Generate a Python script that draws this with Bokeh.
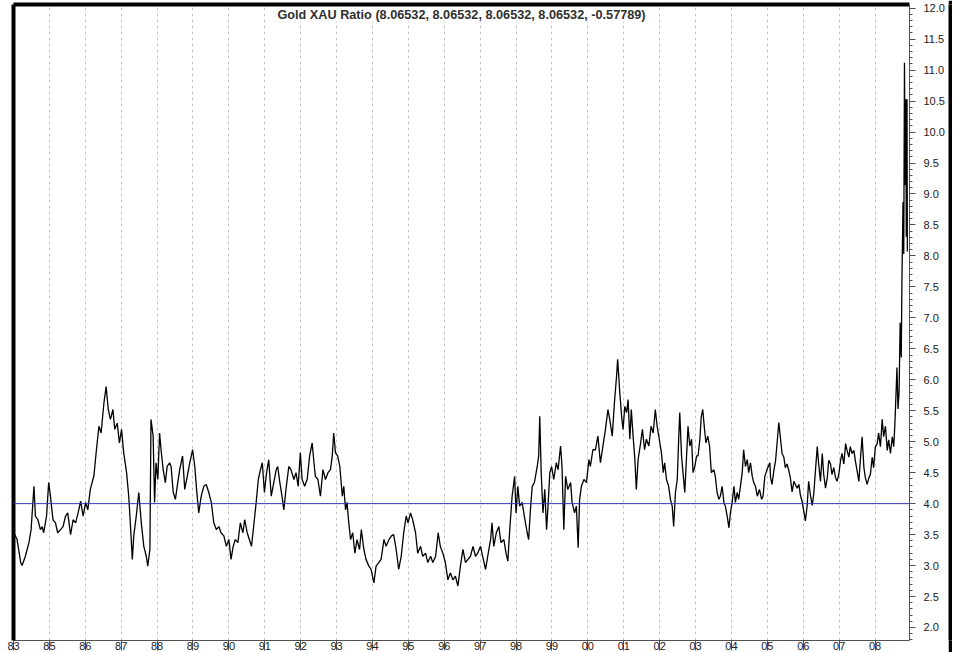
from bokeh.plotting import figure
from bokeh.models import (Range1d, LinearAxis, FixedTicker, SingleIntervalTicker,
                          Span, Label, Grid, NumeralTickFormatter)
from bokeh.layouts import row
from bokeh.embed import file_html
from bokeh.resources import INLINE

title_text = "Gold XAU Ratio (8.06532, 8.06532, 8.06532, 8.06532, -0.57789)"
ref_level = 4.0

tick_years = [1984, 1985, 1986, 1987, 1988, 1989, 1990, 1991, 1992, 1993, 1994, 1995, 1996,
              1997, 1998, 1999, 2000, 2001, 2002, 2003, 2004, 2005, 2006, 2007, 2008]
tick_labels = ["83", "85", "86", "87", "88", "89", "90", "91", "92", "93", "94", "95", "96",
               "97", "98", "99", "00", "01", "02", "03", "04", "05", "06", "07", "08"]

dates = [
    1984.01, 1984.10, 1984.20, 1984.24, 1984.33, 1984.43, 1984.49, 1984.57, 1984.61, 1984.68,
    1984.75, 1984.80, 1984.84, 1984.92, 1984.98, 1985.03, 1985.10, 1985.17, 1985.23, 1985.31,
    1985.38, 1985.45, 1985.51, 1985.59, 1985.66, 1985.73, 1985.80, 1985.87, 1985.94, 1986.01,
    1986.07, 1986.14, 1986.24, 1986.31, 1986.38, 1986.44, 1986.52, 1986.58, 1986.64, 1986.70,
    1986.77, 1986.82, 1986.89, 1986.95, 1987.01, 1987.07, 1987.15, 1987.21, 1987.26, 1987.31,
    1987.35, 1987.42, 1987.49, 1987.56, 1987.63, 1987.70, 1987.74, 1987.80, 1987.83, 1987.89,
    1987.93, 1987.97, 1988.02, 1988.07, 1988.11, 1988.17, 1988.23, 1988.28, 1988.35,
    1988.39, 1988.45, 1988.51, 1988.56, 1988.63, 1988.71, 1988.77, 1988.84, 1988.91, 1988.99,
    1989.05, 1989.10, 1989.16, 1989.23, 1989.30, 1989.37, 1989.44, 1989.51, 1989.58, 1989.65,
    1989.72, 1989.78, 1989.86, 1989.93, 1990.00, 1990.06, 1990.12, 1990.18, 1990.25, 1990.32,
    1990.39, 1990.44, 1990.51, 1990.57, 1990.63, 1990.69, 1990.76, 1990.82, 1990.88, 1990.93,
    1990.99, 1991.05, 1991.11, 1991.18, 1991.25, 1991.32, 1991.36, 1991.42, 1991.48, 1991.53,
    1991.60, 1991.67, 1991.73, 1991.81, 1991.87, 1991.93, 1991.99, 1992.04, 1992.11, 1992.18,
    1992.25, 1992.32, 1992.37, 1992.41, 1992.48, 1992.55,
    1992.62, 1992.69, 1992.76, 1992.83, 1992.88, 1992.92, 1992.97, 1993.03, 1993.09, 1993.16,
    1993.20, 1993.25, 1993.29, 1993.34, 1993.39, 1993.45, 1993.51, 1993.57, 1993.64, 1993.69,
    1993.76, 1993.82, 1993.90, 1993.96, 1994.04, 1994.10, 1994.18, 1994.24, 1994.32, 1994.38,
    1994.46, 1994.53, 1994.59, 1994.66, 1994.73, 1994.80, 1994.87, 1994.94, 1994.99, 1995.06,
    1995.12, 1995.20, 1995.26, 1995.34, 1995.40, 1995.48, 1995.54, 1995.62, 1995.68, 1995.76,
    1995.83, 1995.89, 1995.96, 1996.03, 1996.10, 1996.17, 1996.24, 1996.31, 1996.38, 1996.45,
    1996.52, 1996.59, 1996.66, 1996.73,
    1996.80, 1996.87, 1996.93, 1997.01, 1997.07, 1997.15, 1997.21, 1997.29, 1997.33, 1997.38,
    1997.45, 1997.52, 1997.58, 1997.66, 1997.72, 1997.77, 1997.83, 1997.89, 1997.96, 1998.00,
    1998.05, 1998.10, 1998.17, 1998.23, 1998.31, 1998.35, 1998.40, 1998.45, 1998.51, 1998.59,
    1998.63, 1998.66, 1998.70, 1998.75, 1998.80, 1998.85, 1998.89, 1998.94, 1998.99, 1999.05,
    1999.12, 1999.17, 1999.24, 1999.28, 1999.33, 1999.38, 1999.44, 1999.52, 1999.56, 1999.63,
    1999.68, 1999.73, 1999.77, 1999.82, 1999.89, 1999.96, 2000.03, 2000.07, 2000.14, 2000.21,
    2000.28, 2000.35, 2000.42, 2000.49, 2000.56, 2000.61, 2000.68, 2000.74, 2000.80, 2000.83,
    2000.89,
    2000.94, 2000.98, 2001.03, 2001.08, 2001.12, 2001.17, 2001.21, 2001.26, 2001.31, 2001.35,
    2001.40, 2001.47, 2001.52, 2001.58, 2001.63, 2001.70, 2001.76, 2001.82, 2001.88, 2001.93,
    2001.99, 2002.05, 2002.10, 2002.14, 2002.19, 2002.25, 2002.30, 2002.35, 2002.39, 2002.44,
    2002.49, 2002.53, 2002.56, 2002.61, 2002.65, 2002.70, 2002.75, 2002.79, 2002.84, 2002.89,
    2002.93, 2002.98, 2003.03, 2003.07, 2003.12, 2003.16, 2003.20, 2003.25, 2003.29, 2003.34,
    2003.39, 2003.44, 2003.51, 2003.55, 2003.60, 2003.65, 2003.69, 2003.74, 2003.79, 2003.83,
    2003.88, 2003.93, 2003.97, 2004.02, 2004.07, 2004.11, 2004.16, 2004.20, 2004.25, 2004.30,
    2004.34, 2004.39, 2004.44, 2004.48, 2004.53, 2004.58, 2004.62, 2004.67, 2004.72, 2004.78,
    2004.84, 2004.88, 2004.93, 2004.99, 2005.07,
    2005.09, 2005.13, 2005.18, 2005.23, 2005.27, 2005.32, 2005.37, 2005.41, 2005.46, 2005.50,
    2005.55, 2005.60, 2005.64, 2005.69, 2005.74, 2005.78, 2005.83, 2005.88, 2005.92, 2005.97,
    2006.02, 2006.06, 2006.11, 2006.15, 2006.20, 2006.25, 2006.29, 2006.34, 2006.39, 2006.43,
    2006.48, 2006.53, 2006.57, 2006.62, 2006.67, 2006.71, 2006.76, 2006.80, 2006.85, 2006.90,
    2006.94, 2006.99, 2007.04, 2007.08, 2007.13, 2007.18, 2007.22, 2007.27, 2007.31, 2007.36,
    2007.41, 2007.45, 2007.50, 2007.55, 2007.59, 2007.64, 2007.69, 2007.73, 2007.78, 2007.83,
    2007.87, 2007.92, 2007.96, 2008.01, 2008.06, 2008.10, 2008.15, 2008.20, 2008.24, 2008.29,
    2008.34, 2008.38, 2008.43, 2008.48, 2008.52, 2008.55, 2008.59, 2008.61, 2008.64, 2008.67,
    2008.70, 2008.73, 2008.75, 2008.78, 2008.80, 2008.82, 2008.84, 2008.86, 2008.87, 2008.89,
    2008.90,
]

ratio = [
    3.53, 3.42, 3.05, 3.00, 3.15, 3.37, 3.58, 4.28, 3.80, 3.74,
    3.58, 3.63, 3.53, 3.80, 4.34, 4.12, 3.74, 3.69, 3.53, 3.58,
    3.63, 3.80, 3.85, 3.50, 3.74, 3.69, 3.85, 4.04, 3.80, 4.02,
    3.90, 4.23, 4.45, 4.87, 5.25, 5.14, 5.63, 5.89, 5.52, 5.36,
    5.52, 5.20, 5.30, 4.98, 5.20, 4.82, 4.50, 4.12, 3.63, 3.10,
    3.48, 3.80, 4.18, 3.69, 3.31, 3.15, 2.99, 3.26, 5.36, 5.09,
    4.02, 4.66, 4.39, 5.14, 4.87, 4.55, 4.34, 4.60, 4.66,
    4.60, 4.18, 4.07, 4.28, 4.55, 4.77, 4.23, 4.44, 4.66, 4.87,
    4.60, 4.23, 3.85, 4.12, 4.28, 4.31, 4.18, 4.02, 3.69, 3.58,
    3.63, 3.53, 3.48, 3.31, 3.42, 3.10, 3.31, 3.42, 3.37, 3.69,
    3.53, 3.74, 3.53, 3.42, 3.31, 3.63, 4.02, 4.39, 4.55, 4.66,
    4.18, 4.50, 4.71, 4.12, 4.34, 4.55, 4.60, 4.34, 4.12, 3.90,
    4.28, 4.60, 4.55, 4.39, 4.50, 4.28, 4.82, 4.39, 4.28, 4.39,
    4.77, 4.98, 4.66, 4.44, 4.39, 4.12,
    4.55, 4.39, 4.50, 4.55, 4.77, 5.14, 4.82, 4.77, 4.60, 4.12,
    4.28, 3.90, 4.02, 3.69, 3.42, 3.53, 3.20, 3.42, 3.26, 3.58,
    3.26, 3.10, 2.99, 2.94, 2.72, 2.99, 3.05, 3.10, 3.42, 3.31,
    3.42, 3.48, 3.50, 3.26, 2.94, 3.15, 3.53, 3.80, 3.69, 3.85,
    3.74, 3.53, 3.20, 3.31, 3.15, 3.20, 3.05, 3.15, 3.05, 3.15,
    3.53, 3.31, 3.20, 3.05, 2.77, 2.88, 2.77, 2.83, 2.67, 2.99,
    3.26, 3.05, 3.10, 3.15,
    3.31, 3.15, 3.20, 3.31, 3.15, 2.94, 3.15, 3.42, 3.69, 3.31,
    3.53, 3.63, 3.37, 3.42, 3.20, 3.07, 3.63, 4.12, 4.44, 3.85,
    4.28, 3.96, 4.02, 3.80, 3.53, 3.42, 3.90, 4.28, 4.34, 4.60,
    4.77, 5.41, 4.50, 3.85, 4.23, 3.58, 3.96, 4.50, 4.60, 4.39,
    4.66, 4.55, 4.93, 4.60, 3.58, 4.44, 4.23, 4.34, 4.02, 3.85,
    3.96, 3.29, 4.07, 4.28, 4.39, 4.34, 4.71, 4.60, 4.87, 4.87,
    5.09, 4.66, 4.93, 5.20, 5.52, 5.36, 5.09, 5.63, 6.06, 6.33,
    5.79,
    5.41, 5.20, 5.57, 5.47, 5.68, 5.04, 5.52, 5.09, 4.71, 4.23,
    4.71, 4.98, 5.20, 4.87, 5.04, 4.93, 5.25, 5.14, 5.52, 5.25,
    5.04, 4.82, 4.50, 4.66, 4.39, 4.28, 4.07, 3.96, 3.63, 4.18,
    4.39, 5.04, 5.47, 4.77, 4.50, 4.18, 4.77, 5.25, 4.93, 5.04,
    4.50, 4.60, 4.77, 4.77, 5.04, 5.41, 5.52, 5.20, 4.98, 5.09,
    4.93, 4.50, 4.55, 4.44, 4.18, 4.07, 4.12, 4.28, 4.02, 3.96,
    3.80, 3.61, 3.85, 4.02, 4.28, 4.02, 4.18, 4.07, 4.28, 4.50,
    4.87, 4.60, 4.71, 4.50, 4.66, 4.44, 4.34, 4.28, 4.12, 4.23,
    4.07, 4.12, 4.44, 4.55, 4.66,
    4.42, 4.31, 4.53, 4.70, 4.97, 5.31, 5.03, 4.81, 4.75, 4.58,
    4.64, 4.53, 4.42, 4.19, 4.36, 4.31, 4.25, 4.31, 4.14, 4.03,
    3.86, 3.72, 3.97, 4.36, 4.14, 3.97, 4.14, 4.53, 4.92, 4.64,
    4.36, 4.81, 4.47, 4.25, 4.42, 4.70, 4.64, 4.47, 4.58, 4.42,
    4.36, 4.47, 4.70, 4.81, 4.64, 4.97, 4.86, 4.75, 4.92, 4.81,
    4.86, 4.70, 4.53, 4.36, 4.70, 5.08, 4.58, 4.42, 4.31, 4.42,
    4.47, 4.75, 4.58, 4.92, 4.97, 5.14, 4.92, 5.36, 5.08, 5.25,
    4.86, 5.03, 4.81, 5.08, 4.92, 5.25, 5.86, 6.20, 5.53, 5.81,
    6.92, 6.36, 7.64, 8.87, 8.03, 11.12, 9.14, 10.53, 8.31, 10.53,
    8.07,
]

X_START, X_END = 1984.0, 2008.96
Y_START, Y_END = 1.79, 12.06

p = figure(width=948, height=652, output_backend="svg", toolbar_location=None,
           x_range=Range1d(X_START, X_END), y_range=Range1d(Y_START, Y_END),
           x_axis_location=None, y_axis_location=None,
           min_border_left=13, min_border_right=39, min_border_top=4, min_border_bottom=0)
for g in p.grid:
    g.visible = False
p.background_fill_color = "white"
p.border_fill_color = "white"
p.outline_line_color = None

year_ticker = FixedTicker(ticks=tick_years)

grid = Grid(dimension=0, ticker=year_ticker, grid_line_color="#c4c4c4",
            grid_line_dash="3 3", grid_line_width=1)
p.add_layout(grid)

p.add_layout(Span(location=ref_level, dimension="width", line_color="#3535b5", line_width=1))

p.line(dates, ratio, line_color="black", line_width=1.3)


def edge_axis():
    edge = LinearAxis(ticker=FixedTicker(ticks=[]))
    edge.axis_line_color = "black"
    edge.axis_line_width = 4
    edge.major_tick_out = 0
    edge.major_tick_in = 0
    edge.minor_tick_out = 0
    edge.minor_tick_in = 0
    edge.major_label_standoff = 0
    edge.major_label_text_font_size = "0px"
    return edge


# thick black frame edges (left and top)
p.add_layout(edge_axis(), "left")
p.add_layout(edge_axis(), "above")

yaxis = LinearAxis(ticker=SingleIntervalTicker(interval=0.5, num_minor_ticks=5),
                   formatter=NumeralTickFormatter(format="0.0"))
yaxis.axis_line_color = "#505050"
yaxis.major_tick_line_color = "#505050"
yaxis.minor_tick_line_color = "#505050"
yaxis.major_tick_out = 6
yaxis.major_tick_in = 0
yaxis.minor_tick_out = 3
yaxis.minor_tick_in = 0
yaxis.major_label_standoff = 8
yaxis.major_label_text_font = "Liberation Sans"
yaxis.major_label_text_font_size = "11px"
yaxis.major_label_text_color = "#202020"
p.add_layout(yaxis, "right")

xaxis = LinearAxis(ticker=year_ticker,
                   major_label_overrides={t: l for t, l in zip(tick_years, tick_labels)})
xaxis.axis_line_color = "#505050"
xaxis.major_tick_line_color = "#505050"
xaxis.minor_tick_line_color = None
xaxis.major_tick_out = 10
xaxis.major_tick_in = 0
xaxis.major_label_standoff = -9
xaxis.major_label_text_align = "left"
xaxis.major_label_text_font = "Liberation Sans"
xaxis.major_label_text_font_size = "11px"
xaxis.major_label_text_color = "#202020"
p.add_layout(xaxis, "below")

title = Label(x=(X_START + X_END) / 2, y=Y_END, text=title_text,
              text_align="center", text_baseline="top", y_offset=-3,
              text_font="Liberation Sans", text_font_style="bold",
              text_font_size="12.7px", text_color="#303030",
              background_fill_color="white")
p.add_layout(title)

# narrow black strip forming the chart box's right edge
edge_strip = figure(width=4, height=652, output_backend="svg", toolbar_location=None,
                    x_axis_location=None, y_axis_location=None,
                    min_border_left=0, min_border_right=0, min_border_top=0,
                    min_border_bottom=0)
edge_strip.background_fill_color = "black"
edge_strip.border_fill_color = "black"
edge_strip.outline_line_color = None
for g in edge_strip.grid:
    g.visible = False

layout = row(p, edge_strip, spacing=0)

open("out.html", "w").write(file_html(layout, INLINE))
